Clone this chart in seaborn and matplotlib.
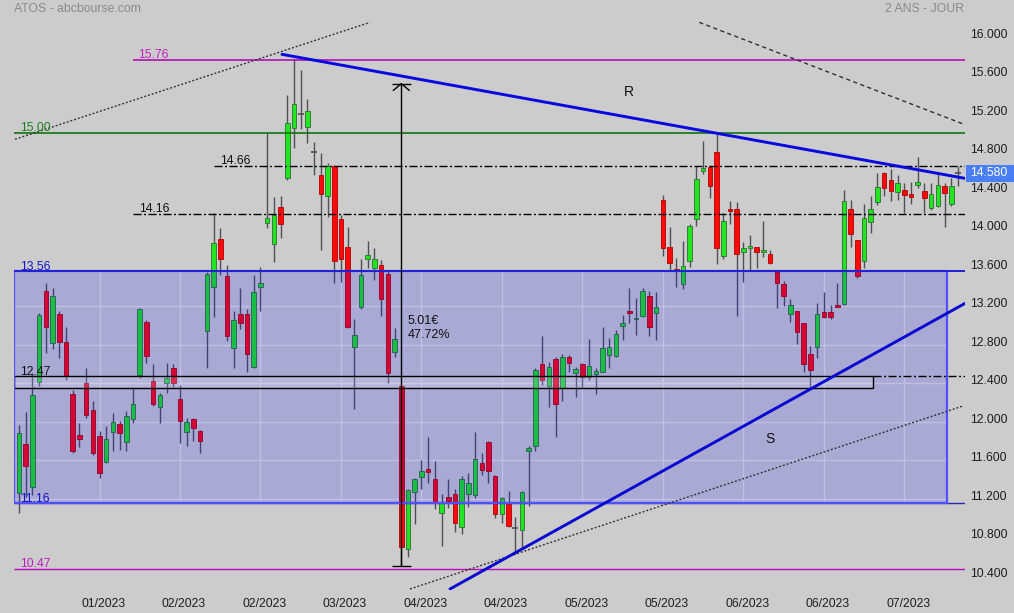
import numpy as np
import matplotlib
matplotlib.use("Agg")
import matplotlib.pyplot as plt
import matplotlib.transforms as mtransforms
from matplotlib.patches import Rectangle
import seaborn as sns

# ---- daily ATOS quotes, one entry per session ----
opens = [11.26, 11.77, 11.32, 12.41, 13.36, 12.82, 13.12, 12.83, 12.29, 11.86,
         12.40, 12.12, 11.85, 11.58, 11.89, 11.98, 11.79, 12.03, 12.49, 13.04,
         12.42, 12.15, 12.40, 12.56, 12.24, 11.89, 12.03, 11.90, 12.94, 13.40,
         13.90, 13.51, 12.77, 13.12, 13.12, 12.57, 13.40, 14.06, 13.85, 14.23,
         14.53, 15.05, 15.20, 15.06, 14.80, 14.56, 14.34, 14.66, 14.10, 13.81,
         12.78, 13.19, 13.69, 13.60, 13.63, 13.53, 12.72, 12.37, 10.68, 11.27,
         11.43, 11.51, 11.41, 11.05, 11.22, 11.25, 10.91, 11.25, 11.24, 11.57,
         11.79, 11.44, 11.04, 11.15, 10.90, 10.88, 11.70, 11.75, 12.60, 12.37,
         12.65, 12.35, 12.67, 12.51, 12.60, 12.46, 12.50, 12.52, 12.69, 12.68,
         12.99, 13.15, 13.07, 13.10, 13.31, 13.13, 14.30, 13.81, 13.59, 13.43,
         13.67, 14.10, 14.60, 14.64, 14.80, 13.72, 14.21, 14.21, 13.76, 13.80,
         13.81, 13.76, 13.74, 13.55, 13.43, 13.12, 13.15, 13.03, 12.70, 12.78,
         13.14, 13.14, 13.21, 13.22, 14.21, 13.89, 13.67, 14.07, 14.28, 14.58,
         14.51, 14.39, 14.41, 14.36, 14.46, 14.40, 14.22, 14.24, 14.45, 14.26,
         14.58]
highs = [11.97, 12.10, 12.51, 13.13, 13.44, 13.39, 13.15, 12.98, 12.33, 11.99,
         12.56, 12.22, 11.90, 11.96, 12.09, 12.01, 12.11, 12.36, 13.18, 13.06,
         12.60, 12.30, 12.61, 12.60, 12.38, 12.04, 12.04, 11.91, 13.55, 14.17,
         14.01, 13.63, 13.15, 13.39, 13.17, 13.52, 13.61, 15.00, 14.33, 14.34,
         15.39, 15.77, 15.65, 15.35, 14.90, 14.79, 14.69, 14.67, 14.15, 14.02,
         13.07, 13.69, 13.88, 13.80, 13.68, 13.57, 12.97, 12.38, 11.30, 11.42,
         11.60, 11.84, 11.59, 11.25, 11.41, 11.30, 11.44, 11.47, 11.89, 11.67,
         11.80, 11.45, 11.22, 11.28, 11.01, 11.28, 11.75, 12.56, 12.89, 12.62,
         12.67, 12.70, 12.69, 12.57, 12.61, 12.86, 12.56, 12.98, 12.87, 12.95,
         13.11, 13.39, 13.28, 13.39, 13.36, 13.35, 14.35, 14.02, 13.70, 13.88,
         14.05, 14.66, 14.92, 14.67, 14.99, 14.17, 14.29, 14.28, 13.87, 13.94,
         13.81, 14.08, 13.78, 13.57, 13.46, 13.27, 13.15, 13.03, 12.79, 13.23,
         13.35, 13.21, 13.44, 14.41, 14.30, 13.89, 14.26, 14.34, 14.58, 14.59,
         14.62, 14.56, 14.48, 14.49, 14.75, 14.48, 14.48, 14.57, 14.48, 14.53,
         14.66]
lows = [11.05, 11.22, 11.24, 12.37, 12.71, 12.75, 12.66, 12.43, 11.67, 11.74,
        12.04, 11.65, 11.42, 11.57, 11.70, 11.71, 11.70, 11.99, 12.45, 12.61,
        12.16, 11.99, 12.30, 12.36, 11.78, 11.75, 11.80, 11.67, 12.56, 13.09,
        13.52, 12.84, 12.56, 12.96, 12.52, 12.56, 13.15, 14.01, 13.66, 13.91,
        14.51, 14.84, 15.04, 14.89, 14.56, 13.78, 14.13, 13.44, 13.45, 12.97,
        12.13, 13.17, 13.60, 13.47, 13.10, 12.40, 12.67, 10.50, 10.60, 10.94,
        11.30, 11.36, 11.09, 10.71, 11.10, 10.85, 10.83, 11.11, 11.21, 11.45,
        11.36, 11.00, 10.95, 10.91, 10.63, 10.70, 11.12, 11.70, 12.38, 12.15,
        11.84, 12.22, 12.52, 12.26, 12.36, 12.43, 12.29, 12.52, 12.56, 12.67,
        12.85, 13.03, 12.90, 13.09, 12.89, 12.85, 13.72, 13.58, 13.40, 13.38,
        13.61, 14.03, 14.57, 14.32, 13.64, 13.69, 14.05, 13.10, 13.45, 13.58,
        13.60, 13.71, 13.64, 13.18, 13.20, 13.04, 12.81, 12.52, 12.36, 12.66,
        13.08, 13.07, 13.19, 13.21, 13.81, 13.49, 13.60, 13.96, 14.25, 14.34,
        14.29, 14.30, 14.17, 14.26, 14.43, 14.17, 14.20, 14.23, 14.02, 14.24,
        14.45]
closes = [11.88, 11.54, 12.28, 13.11, 12.98, 13.31, 12.83, 12.47, 11.70, 11.82,
          12.07, 11.67, 11.47, 11.82, 12.00, 11.88, 12.06, 12.18, 13.17, 12.68,
          12.18, 12.28, 12.45, 12.40, 12.01, 12.00, 11.93, 11.80, 13.53, 13.86,
          13.69, 12.89, 13.06, 13.03, 12.70, 13.35, 13.44, 14.12, 14.15, 14.05,
          15.10, 15.30, 15.20, 15.23, 14.80, 14.36, 14.66, 13.67, 13.69, 12.98,
          12.90, 13.52, 13.73, 13.69, 13.27, 12.51, 12.86, 10.70, 11.29, 11.40,
          11.49, 11.48, 11.17, 11.17, 11.18, 10.95, 11.41, 11.36, 11.61, 11.50,
          11.49, 11.04, 11.21, 10.92, 10.90, 11.27, 11.73, 12.54, 12.43, 12.57,
          12.18, 12.67, 12.61, 12.55, 12.46, 12.58, 12.53, 12.77, 12.78, 12.91,
          13.02, 13.13, 13.08, 13.36, 12.98, 13.19, 13.80, 13.65, 13.58, 13.62,
          14.03, 14.52, 14.63, 14.45, 13.80, 14.08, 14.19, 13.74, 13.80, 13.82,
          13.76, 13.78, 13.65, 13.44, 13.31, 13.21, 12.93, 12.60, 12.54, 13.12,
          13.09, 13.09, 13.19, 14.29, 13.95, 13.51, 14.12, 14.21, 14.44, 14.43,
          14.40, 14.48, 14.35, 14.33, 14.49, 14.32, 14.36, 14.46, 14.38, 14.45,
          14.58]

last_price = 14.58

# x-axis date labels, one every 12 sessions
date_ticks = [12, 24, 36, 48, 60, 72, 84, 96, 108, 120, 132]
date_labels = ["01/2023", "02/2023", "02/2023", "03/2023", "04/2023", "04/2023",
               "05/2023", "05/2023", "06/2023", "06/2023", "07/2023"]
price_ticks = [10.4, 10.8, 11.2, 11.6, 12.0, 12.4, 12.8, 13.2, 13.6,
               14.0, 14.4, 14.8, 15.2, 15.6, 16.0]

# key levels and drawn studies
range_top, range_bottom = 13.56, 11.16
zone_top, zone_bottom = 12.47, 12.35
level_high, level_15, level_low = 15.76, 15.00, 10.47
level_1466, level_1416 = 14.66, 14.16
resistance_x, resistance_y = [39.2, 141.05], [15.815, 14.527]
support_x, support_y = [64.26, 141.05], [10.263, 13.229]
lower_channel_x, lower_channel_y = [58.3, 140.75], [10.263, 12.163]
upper_left_x, upper_left_y = [-0.6, 52.33], [14.933, 16.147]
upper_right_x, upper_right_y = [101.43, 140.8], [16.147, 15.091]
measure_idx, measure_low, measure_high = 57, 10.50, 15.51

XMIN, XMAX = -0.75, 141.05
YMIN, YMAX = 10.2524, 16.2129
BG = "#cccccc"

sns.set_theme(style="white", rc={"axes.facecolor": BG, "figure.facecolor": BG})
plt.rcParams["font.family"] = ["Liberation Sans", "DejaVu Sans"]

fig = plt.figure(figsize=(10.14, 6.13), dpi=100)
ax = fig.add_axes([14 / 1014, 23 / 613, 951 / 1014, 574 / 613])
ax.set_xlim(XMIN, XMAX)
ax.set_ylim(YMIN, YMAX)
for s in ax.spines.values():
    s.set_visible(False)
ax.grid(False)

O = np.array(opens); H = np.array(highs); L = np.array(lows); C = np.array(closes)
idx = np.arange(len(O))
up, down, flat = C > O, C < O, C == O

# grid, visible inside the trading range only
box_right = 138.4
ax.hlines([v for v in price_ticks if range_bottom < v < range_top], XMIN, box_right,
          color="#e6e6dc", lw=1, zorder=1.5)
ax.vlines(date_ticks, range_bottom, range_top, color="#e6e6dc", lw=1, zorder=1.5)

# candlesticks
ax.vlines(idx, L, H, color="#50505a", lw=1, zorder=2)
ax.bar(idx[up], (C - O)[up], bottom=O[up], width=0.68, color="#1fe61f",
       edgecolor="#2f6f2f", linewidth=0.6, zorder=3)
ax.bar(idx[down], (O - C)[down], bottom=C[down], width=0.68, color="#ff0a0a",
       edgecolor="#b00000", linewidth=0.6, zorder=3)
ax.hlines(O[flat], idx[flat] - 0.45, idx[flat] + 0.45, color="#50505a", lw=1.2, zorder=3)

# trading range box (translucent overlay) and the 12.47 zone
ax.add_patch(Rectangle((XMIN, range_bottom), box_right - XMIN, range_top - range_bottom,
                       facecolor=(0, 0, 1, 1 / 6), edgecolor="none", zorder=4))
ax.add_patch(Rectangle((XMIN, zone_bottom), 127.3 - XMIN, zone_top - zone_bottom,
                       facecolor=(1, 1, 1, 0.16), edgecolor="black", lw=1, zorder=4.5))
ax.hlines(range_bottom, XMIN, XMAX, color="#2828b0", lw=1, zorder=4.8)
ax.add_patch(Rectangle((XMIN, range_bottom), box_right - XMIN, range_top - range_bottom,
                       fill=False, edgecolor="#5050ff", lw=1.6, zorder=5))
ax.hlines(range_top, XMIN, XMAX, color="#2020d8", lw=1.4, zorder=5.5)

# horizontal levels
dashdot = (0, (5.8, 1.8, 1.4, 1.8))
ax.hlines(level_high, 17.0, XMAX, color="#b000b0", lw=1.1, zorder=6)
ax.hlines(level_15, XMIN, XMAX, color="#007000", lw=1.1, zorder=6)
ax.hlines(level_low, XMIN, XMAX, color="#c000c0", lw=1.0, zorder=6)
ax.hlines(level_1466, 29.07, XMAX, color="black", lw=1.0, linestyles=dashdot, zorder=6)
ax.hlines(level_1416, 17.0, XMAX, color="black", lw=1.0, linestyles=dashdot, zorder=6)
ax.hlines(zone_top, 127.3, XMAX, color="black", lw=1.0, linestyles=dashdot, zorder=6)

# trend lines and channels
sns.lineplot(x=resistance_x, y=resistance_y, ax=ax, color="#0808e0", lw=2.1, zorder=7)
sns.lineplot(x=support_x, y=support_y, ax=ax, color="#0808d0", lw=2.1, zorder=7)
ax.plot(lower_channel_x, lower_channel_y, color="#303030", lw=1.0,
        linestyle=(0, (1.4, 1.4)), zorder=6)
ax.plot(upper_left_x, upper_left_y, color="#303030", lw=1.0,
        linestyle=(0, (1.4, 1.4)), zorder=6)
ax.plot(upper_right_x, upper_right_y, color="#303030", lw=1.0,
        linestyle=(0, (3.0, 2.4)), zorder=6)

# measurement arrow
ax.vlines(measure_idx, measure_low, measure_high, color="black", lw=1, zorder=8)
ax.hlines([measure_low, measure_high], measure_idx - 1.43, measure_idx + 1.43,
          color="black", lw=1, zorder=8)
ax.plot([measure_idx - 1.2, measure_idx, measure_idx + 1.2],
        [measure_high - 0.07, measure_high, measure_high - 0.07], color="black", lw=1, zorder=8)
ax.text(57.9, 13.046, "5.01€", fontsize=9, color="#111111", va="center", ha="left", zorder=9)
ax.text(57.9, 12.897, "47.72%", fontsize=9, color="#111111", va="center", ha="left", zorder=9)

# level labels
lab = dict(fontsize=8.8, va="baseline", ha="left", zorder=9)
ax.text(17.8, level_high + 0.02, "15.76", color="#c020c0", **lab)
ax.text(0.15, level_15 + 0.02, "15.00", color="#1f7f1f", **lab)
ax.text(29.97, level_1466 + 0.02, "14.66", color="#111111", **lab)
ax.text(17.9, level_1416 + 0.02, "14.16", color="#111111", **lab)
ax.text(0.15, range_top + 0.02, "13.56", color="#1515c8", **lab)
ax.text(0.15, zone_top + 0.02, "12.47", color="#111111", **lab)
ax.text(0.15, range_bottom + 0.01, "11.16", color="#1515c8", **lab)
ax.text(0.15, level_low + 0.02, "10.47", color="#c020c0", **lab)
ax.text(91.0, 15.42, "R", fontsize=10, color="#111111", ha="center", va="center", zorder=9)
ax.text(111.9, 11.82, "S", fontsize=10, color="#111111", ha="center", va="center", zorder=9)

# axes ticks
ax.yaxis.tick_right()
ax.set_yticks(price_ticks)
ax.set_yticklabels([f"{v:.3f}" for v in price_ticks])
ax.tick_params(axis="y", length=0, pad=3.6, labelsize=8.8, labelcolor="#1e1e1e")
shift = mtransforms.ScaledTranslation(0, 3.5 / 100, fig.dpi_scale_trans)
for t in ax.get_yticklabels():
    t.set_transform(t.get_transform() + shift)
ax.set_xticks([t + 0.6 for t in date_ticks])
ax.set_xticklabels(date_labels)
ax.tick_params(axis="x", length=0, pad=5.5, labelsize=8.7, labelcolor="#1e1e1e")

# last price tag
blend = mtransforms.blended_transform_factory(ax.transAxes, ax.transData)
ax.add_patch(Rectangle((1.001, last_price - 0.088), 0.0505, 0.176, transform=blend,
                       facecolor="#4a7ef5", edgecolor="none", clip_on=False, zorder=10))
ax.text(1.0055, last_price, f"{last_price:.3f}", transform=blend, color="white",
        fontsize=8.8, va="center", ha="left", zorder=11, clip_on=False)

# header
fig.text(14 / 1014, 1 - 9 / 613, "ATOS - abcbourse.com", color="#8a8a8a",
         fontsize=8.8, va="center", ha="left")
fig.text(964 / 1014, 1 - 9 / 613, "2 ANS - JOUR", color="#8a8a8a",
         fontsize=8.8, va="center", ha="right")

fig.savefig("out.png", dpi=100, facecolor=BG)
